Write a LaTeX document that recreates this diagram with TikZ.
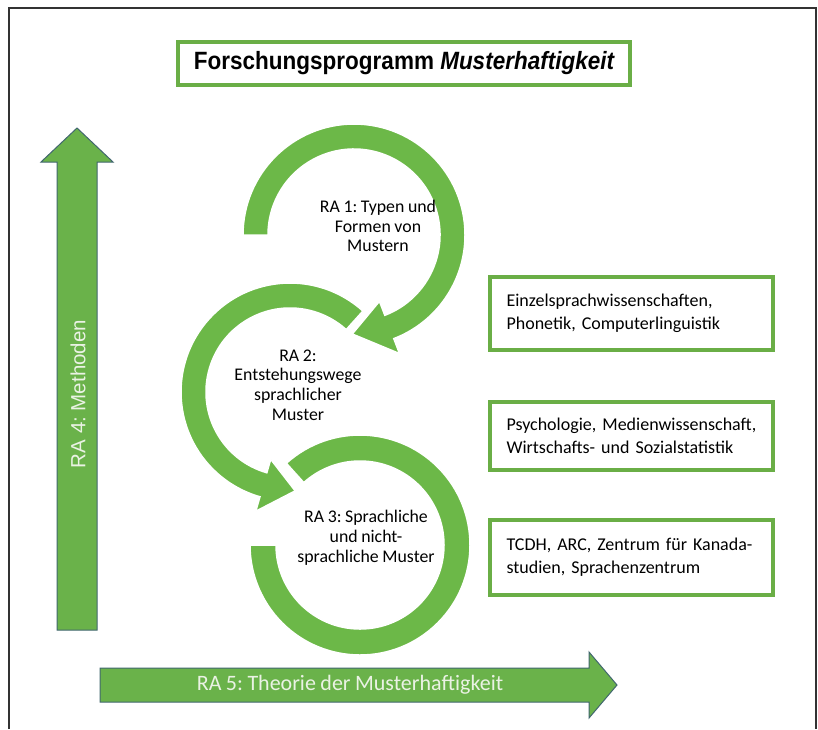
\documentclass[tikz,border=0pt]{standalone}
\usepackage{fontspec}
\setmainfont[WordSpace=0.9]{Carlito}
\newfontfamily\titlefont[FakeStretch=0.9]{Liberation Sans}
\newfontfamily\arialfont{Liberation Sans}
\usetikzlibrary{calc}
\definecolor{ringgreen}{HTML}{6CB848}
\definecolor{boxgreen}{HTML}{6AAE46}
\definecolor{arrowgreen}{HTML}{6AB24A}
\definecolor{arrowline}{HTML}{41676E}
\definecolor{framegray}{HTML}{333333}
\definecolor{lighttext}{HTML}{EAF2E4}
\tikzset{
  ringarrow/.style={fill=ringgreen, draw=white, line width=1.5pt, line join=miter},
  bigarrow/.style={fill=arrowgreen, draw=arrowline, line width=1pt, line join=miter},
  titlebox/.style={draw=boxgreen, line width=4pt, fill=white, minimum width=452pt, minimum height=43pt, inner sep=0pt},
  infobox/.style={draw=boxgreen, line width=4pt, fill=white, minimum width=283pt, text width=250pt, align=left, inner sep=0pt, font=\fontsize{18}{23}\selectfont},
  ringtext/.style={align=center, font=\fontsize{17.8}{19.8}\selectfont, inner sep=0pt},
  arrowtext/.style={text=lighttext, inner sep=0pt}
}
\begin{document}
\frenchspacing
\begin{tikzpicture}[x=1pt,y=1pt]
\useasboundingbox (0,0) rectangle (818,-729);
\fill[white] (0,0) rectangle (818,-729);
\draw[framegray, line width=2pt] (8.5,-729) -- (8.5,-7.5) -- (815.5,-7.5) -- (815.5,-729);

% title
\node[titlebox] (title) at (404,-63.5) {\titlefont\fontsize{25}{28}\selectfont\bfseries Forschungsprogramm \itshape Musterhaftigkeit};

% RA 4 vertical arrow
\filldraw[bigarrow] (57,-630) -- (57,-162) -- (41,-162) -- (77,-128) -- (113,-162) -- (97,-162) -- (97,-630) -- cycle;
\node[arrowtext, rotate=90] (ra4) at (78,-394) {\arialfont\fontsize{20.5}{24}\selectfont RA 4: Methoden};

% RA 5 horizontal arrow
\filldraw[bigarrow] (100,-668) -- (589,-668) -- (589,-652) -- (617,-685) -- (589,-718) -- (589,-702) -- (100,-702) -- cycle;
\node[arrowtext] (ra5) at (350,-685) {\fontsize{22}{26}\selectfont RA 5: Theorie der Musterhaftigkeit};

% ring centres
\coordinate (C1) at (354,-235);
\coordinate (C2) at (290,-392);
\coordinate (C3) at (360,-545);

% ring 3 (no head)
\filldraw[ringarrow] ($(C3)+(132:110)$) arc[start angle=132, end angle=-180, radius=110]
  -- ($(C3)+(-180:84)$) arc[start angle=-180, end angle=132, radius=84] -- cycle;

% ring 2
\filldraw[ringarrow] ($(C2)+(48:109)$) arc[start angle=48, end angle=254, radius=109]
  -- ($(C2)+(254:124)$) -- ($(C2)+(273:99)$) -- ($(C2)+(254:70)$)
  -- ($(C2)+(254:84)$) arc[start angle=254, end angle=48, radius=84] -- cycle;

% ring 1
\filldraw[ringarrow] ($(C1)+(180:111)$) arc[start angle=180, end angle=-69, radius=111]
  -- ($(C1)+(-69:127)$) -- ($(C1)+(-91:99)$) -- ($(C1)+(-69:71)$)
  -- ($(C1)+(-69:86)$) arc[start angle=-69, end angle=180, radius=86] -- cycle;

% ring texts
\node[ringtext] (ra1) at (378,-226) {RA 1: Typen und\\Formen von\\Mustern};
\node[ringtext] (ra2) at (298,-385) {RA 2:\\Entstehungswege\\sprachlicher\\Muster};
\node[ringtext] (ra3) at (366,-538) {RA 3: Sprachliche\\und nicht-\\sprachliche Muster};

% info boxes
\node[infobox, minimum height=73pt] (b1) at (631.5,-313.5) {Einzelsprachwissenschaften,\\Phonetik, Computerlinguistik};
\node[infobox, minimum height=68pt] (b2) at (631.5,-436) {Psychologie, Medienwissenschaft,\\Wirtschafts- und Sozialstatistik};
\node[infobox, minimum height=75pt] (b3) at (631.5,-557) {TCDH, ARC, Zentrum f\"ur Kanada-\\studien, Sprachenzentrum};
\end{tikzpicture}
\end{document}
